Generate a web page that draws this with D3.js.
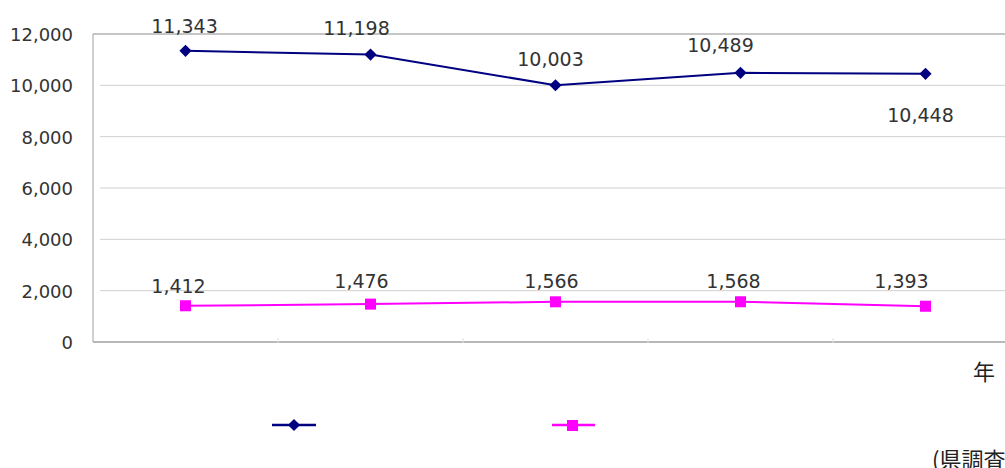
<!DOCTYPE html>
<html>
<head>
<meta charset="utf-8">
<title>chart</title>
<style>
  body { margin: 0; background: #fff; }
  text { font-family: "DejaVu Sans", sans-serif; fill: #333; }
  .cjk { font-family: "Noto Sans CJK JP", sans-serif; fill: #222; }
</style>
</head>
<body>
<svg id="chart" width="1005" height="468"></svg>
<script src="https://d3js.org/d3.v7.min.js"></script>
<script>
// data (category labels are not shown in it)
var categories = ["c1", "c2", "c3", "c4", "c5"];
var seriesA = [11343, 11198, 10003, 10489, 10448];
var seriesB = [1412, 1476, 1566, 1568, 1393];
var yTicks = [0, 2000, 4000, 6000, 8000, 10000, 12000];

// label nudges [dx, dy] relative to each point (layout only)
var nudgeA = [[-1, -18], [-14, -20], [-5, -19], [-20, -21], [-5, 48]];
var nudgeB = [[-7, -13], [-9, -16], [-4, -14], [-7, -14], [-24, -18]];

var svg = d3.select('#chart');
var plotL = 93, plotR = 1018, plotT = 34, plotB = 342;

var x = d3.scaleBand().domain(categories).range([plotL, plotR]);
var y = d3.scaleLinear().domain([0, 12000]).range([plotB, plotT]);
var fmt = d3.format(',');

// gridlines
svg.selectAll('.grid')
  .data(yTicks.filter(function(d) { return d > 0 && d < 12000; }))
  .enter().append('line')
  .attr('x1', plotL + 7).attr('x2', 1005)
  .attr('y1', function(d) { return y(d); })
  .attr('y2', function(d) { return y(d); })
  .attr('stroke', '#d0d0d0').attr('stroke-width', 1);

// plot border (top) and axes
svg.append('line').attr('x1', plotL).attr('x2', 1005)
  .attr('y1', y(12000)).attr('y2', y(12000))
  .attr('stroke', '#8c8c8c');
svg.append('line').attr('x1', plotL).attr('x2', plotL)
  .attr('y1', plotT).attr('y2', plotB)
  .attr('stroke', '#a0a0a0');
svg.append('line').attr('x1', plotL).attr('x2', 1005)
  .attr('y1', plotB).attr('y2', plotB)
  .attr('stroke', '#a0a0a0').attr('stroke-width', 1.5);

// small category ticks
svg.selectAll('.ctick')
  .data(categories.slice(1))
  .enter().append('line')
  .attr('x1', function(d) { return x(d); })
  .attr('x2', function(d) { return x(d); })
  .attr('y1', plotB - 4).attr('y2', plotB + 1)
  .attr('stroke', '#e0e0e0');

// y tick labels
svg.selectAll('.ylab')
  .data(yTicks)
  .enter().append('text')
  .attr('x', 73)
  .attr('y', function(d) { return y(d) + 7; })
  .attr('text-anchor', 'end')
  .style('font-size', '18px')
  .text(function(d) { return fmt(d); });

function cx(i) { return x(categories[i]) + x.bandwidth() / 2; }

var line = d3.line()
  .x(function(d, i) { return cx(i); })
  .y(function(d) { return y(d); });

// series A (navy, diamonds)
svg.append('path').datum(seriesA)
  .attr('d', line).attr('fill', 'none')
  .attr('stroke', '#000080').attr('stroke-width', 2);

var diamond = d3.symbol().type(d3.symbolDiamond2).size(95);
svg.selectAll('.ptA')
  .data(seriesA)
  .enter().append('path')
  .attr('d', diamond)
  .attr('transform', function(d, i) { return 'translate(' + cx(i) + ',' + y(d) + ')'; })
  .attr('fill', '#000080');

// series B (magenta, squares)
svg.append('path').datum(seriesB)
  .attr('d', line).attr('fill', 'none')
  .attr('stroke', '#ff00ff').attr('stroke-width', 2);

svg.selectAll('.ptB')
  .data(seriesB)
  .enter().append('rect')
  .attr('x', function(d, i) { return cx(i) - 5.5; })
  .attr('y', function(d) { return y(d) - 5.5; })
  .attr('width', 11).attr('height', 11)
  .attr('fill', '#ff00ff');

// data labels
svg.selectAll('.labA')
  .data(seriesA)
  .enter().append('text')
  .attr('x', function(d, i) { return cx(i) + nudgeA[i][0]; })
  .attr('y', function(d, i) { return y(d) + nudgeA[i][1]; })
  .attr('text-anchor', 'middle')
  .style('font-size', '19px')
  .text(function(d) { return fmt(d); });

svg.selectAll('.labB')
  .data(seriesB)
  .enter().append('text')
  .attr('x', function(d, i) { return cx(i) + nudgeB[i][0]; })
  .attr('y', function(d, i) { return y(d) + nudgeB[i][1]; })
  .attr('text-anchor', 'middle')
  .style('font-size', '19px')
  .text(function(d) { return fmt(d); });

// axis unit and source (the source note runs past the right edge, as in the picture)
svg.append('text').attr('class', 'cjk')
  .attr('x', 973).attr('y', 380)
  .style('font-size', '22px').text('年');
svg.append('text').attr('class', 'cjk')
  .attr('x', 932).attr('y', 468)
  .style('font-size', '22px').text('(県調査)');

// legend (no text in the picture)
var legend = svg.append('g');
legend.append('line').attr('x1', 272).attr('x2', 316)
  .attr('y1', 425).attr('y2', 425)
  .attr('stroke', '#000080').attr('stroke-width', 2.5);
legend.append('path').attr('d', diamond)
  .attr('transform', 'translate(294,425)').attr('fill', '#000080');
legend.append('line').attr('x1', 552).attr('x2', 595)
  .attr('y1', 425).attr('y2', 425)
  .attr('stroke', '#ff00ff').attr('stroke-width', 2.5);
legend.append('rect').attr('x', 567).attr('y', 420)
  .attr('width', 11).attr('height', 11).attr('fill', '#ff00ff');
</script>
</body>
</html>
